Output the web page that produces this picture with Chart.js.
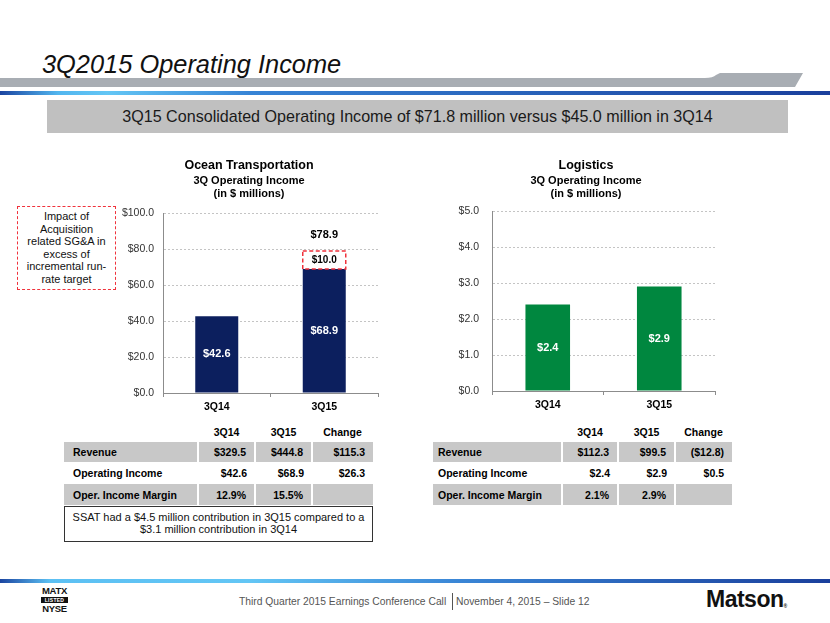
<!DOCTYPE html>
<html>
<head>
<meta charset="utf-8">
<script src="https://cdn.jsdelivr.net/npm/chart.js@4.4.0/dist/chart.umd.min.js"></script>
<style>
  body { margin: 0; background: #fff; font-family: "Liberation Sans", Arial, sans-serif; }
  #slide { position: relative; width: 830px; height: 623px; overflow: hidden; background: #fff; }
  .abs { position: absolute; }
  #title { left: 42px; top: 49px; font-size: 25.4px; font-style: italic; color: #111; line-height: 30px; white-space: nowrap; }
  #banner { left: 47px; top: 100px; width: 741px; height: 33px; background: #c0c0c0; color: #1a1a1a;
            font-size: 16.1px; line-height: 33px; text-align: center; white-space: nowrap; }
  #note { left: 17px; top: 206px; width: 99px; height: 84px; box-sizing: border-box; border: 1.5px dashed #f0323c;
          font-size: 11px; line-height: 12.5px; text-align: center; padding-top: 3px; color: #111; }
  .tbl { position: absolute; border-collapse: collapse; table-layout: fixed; font-size: 10.5px; font-weight: bold; color: #000; }
  .tbl td { padding: 0 8px 0 0; text-align: right; white-space: nowrap; }
  .tbl tr.hd td { text-align: center; padding: 0; }
  .tbl tr.g td { background: #c8c8c8; border-right: 2px solid #fff; }
  .tbl tr.g td:last-child { border-right: none; }
  #ssat { left: 64px; top: 506px; width: 309px; height: 36px; box-sizing: border-box; border: 1.5px solid #333;
          font-size: 11px; line-height: 12px; text-align: center; padding-top: 4px; color: #111; }
  #footer { left: 239px; top: 595px; font-size: 10.3px; color: #555; line-height: 14px; white-space: nowrap; }
  #footer .sep { border-left: 1px solid #555; margin-left: 3px; padding-left: 3px; padding-top: 3px; padding-bottom: 3px; }
  #matx { left: 41px; top: 586px; width: 27px; text-align: center; font-weight: bold; color: #111; font-size: 9.5px; line-height: 10px; letter-spacing: -0.3px; }
  #matx .lst { display: block; background: #111; color: #fff; font-size: 5px; line-height: 6px; margin: 1px 0; letter-spacing: 0.3px; }
  #matson { left: 706px; top: 586px; font-size: 23px; font-weight: bold; letter-spacing: -0.5px; color: #111; line-height: 26px; }
  #matson sup { font-size: 5px; letter-spacing: 0; vertical-align: -1px; }
  canvas { position: absolute; }
</style>
</head>
<body>
<div id="slide">
  <svg class="abs" style="left:0;top:0" width="830" height="623">
    <defs>
      <linearGradient id="blueTop" x1="0" x2="1" y1="0" y2="0">
        <stop offset="0" stop-color="#1b45a0"/>
        <stop offset="0.07" stop-color="#52b6ef"/>
        <stop offset="0.13" stop-color="#63c6f5"/>
        <stop offset="0.3" stop-color="#3784d6"/>
        <stop offset="1" stop-color="#1a3f9c"/>
      </linearGradient>
      <linearGradient id="blueBot" x1="0" x2="1" y1="0" y2="0">
        <stop offset="0" stop-color="#1b45a0"/>
        <stop offset="0.06" stop-color="#5cc0f3"/>
        <stop offset="0.3" stop-color="#63c6f5"/>
        <stop offset="0.55" stop-color="#3a86d6"/>
        <stop offset="1" stop-color="#1a3f9c"/>
      </linearGradient>
    </defs>
    <path d="M0 78 L705 78 Q713 78 716 75 L720 73 L803 73 L795 87 L0 87 Z" fill="#a8adb3"/>
    <rect x="0" y="91" width="830" height="4" fill="url(#blueTop)"/>
    <rect x="0" y="579" width="830" height="4" fill="url(#blueBot)"/>
  </svg>

  <div id="title" class="abs">3Q2015 Operating Income</div>
  <div id="banner" class="abs">3Q15 Consolidated Operating Income of $71.8 million versus $45.0 million in 3Q14</div>

  <div id="note" class="abs">Impact of<br>Acquisition<br>related SG&amp;A in<br>excess of<br>incremental run-<br>rate target</div>

  <canvas id="oceanChart" width="290" height="260" style="left:100px;top:155px;width:290px;height:260px"></canvas>
  <canvas id="logisticsChart" width="300" height="260" style="left:440px;top:155px;width:300px;height:260px"></canvas>

  <table id="oceanTable" class="tbl" style="left:64px;top:421px"></table>
  <table id="logisticsTable" class="tbl" style="left:433px;top:421px"></table>

  <div id="ssat" class="abs">SSAT had a $4.5 million contribution in 3Q15 compared to a<br>$3.1 million contribution in 3Q14</div>

  <div id="matx" class="abs">MATX<span class="lst">LISTED</span>NYSE</div>
  <div id="footer" class="abs">Third Quarter 2015 Earnings Conference Call <span class="sep">November 4, 2015 – Slide 12</span></div>
  <div id="matson" class="abs">Matson<sup>®</sup></div>
</div>

<script>
// ---- data ----
const quarters = ['3Q14', '3Q15'];
const oceanIncome = [42.6, 68.9];
const oceanAcqImpact = [null, 10.0];   // dashed box on top of 3Q15
const logisticsIncome = [2.4, 2.9];
const oceanTicks = [0, 20, 40, 60, 80, 100];
const logisticsTicks = [0, 1, 2, 3, 4, 5];

const tableHead = ['', '3Q14', '3Q15', 'Change'];
const rowNames = ['Revenue', 'Operating Income', 'Oper. Income Margin'];
const oceanRows = [
  ['$329.5', '$444.8', '$115.3'],
  ['$42.6', '$68.9', '$26.3'],
  ['12.9%', '15.5%', '']
];
const logisticsRows = [
  ['$112.3', '$99.5', '($12.8)'],
  ['$2.4', '$2.9', '$0.5'],
  ['2.1%', '2.9%', '']
];

const fontFamily = '"Liberation Sans", Arial, sans-serif';
Chart.defaults.font.family = fontFamily;
Chart.defaults.color = '#000';

const navy = '#0c1f5e';
const green = '#00873f';
const dashRed = '#f0323c';

// value labels inside the bars, dashed box + total for the acquisition part
const barLabels = {
  id: 'barLabels',
  afterDatasetsDraw(chart) {
    const ctx = chart.ctx;
    ctx.save();
    ctx.textAlign = 'center';
    ctx.textBaseline = 'middle';
    chart.data.datasets.forEach((ds, di) => {
      const meta = chart.getDatasetMeta(di);
      meta.data.forEach((bar, i) => {
        const v = ds.data[i];
        if (v == null) return;
        const p = bar.getProps(['x', 'y', 'base', 'width'], true);
        if (ds.dashColor) {
          ctx.setLineDash([4, 2.5]);
          ctx.lineWidth = 1.5;
          ctx.strokeStyle = ds.dashColor;
          ctx.strokeRect(p.x - p.width / 2, p.y, p.width, p.base - p.y);
          ctx.setLineDash([]);
        }
        ctx.fillStyle = ds.labelColor;
        ctx.font = 'bold ' + ds.labelSize + 'px ' + fontFamily;
        ctx.fillText('$' + v.toFixed(1), p.x, (p.y + p.base) / 2);
        if (ds.showTotal) {
          let tot = 0;
          chart.data.datasets.forEach(d => { tot += d.data[i] || 0; });
          ctx.fillStyle = '#000';
          ctx.font = 'bold 11px ' + fontFamily;
          ctx.fillText('$' + tot.toFixed(1), p.x, p.y - 16);
        }
      });
    });
    ctx.restore();
  }
};

function barChart(id, cfg) {
  return new Chart(document.getElementById(id), {
    type: 'bar',
    data: { labels: quarters, datasets: cfg.datasets },
    options: {
      responsive: false,
      animation: false,
      devicePixelRatio: 1,
      layout: { padding: cfg.padding },
      datasets: { bar: { categoryPercentage: 1, barPercentage: 0.4 } },
      plugins: {
        legend: { display: false },
        tooltip: { enabled: false },
        title: { display: true, text: cfg.title, color: '#000',
                 font: { size: 12.5, weight: 'bold' }, padding: { top: 3, bottom: 1 } },
        subtitle: { display: true, text: ['3Q Operating Income', '(in $ millions)'], color: '#000',
                    font: { size: 11, weight: 'bold', lineHeight: 1.2 }, padding: { top: 0, bottom: cfg.subGap } }
      },
      scales: {
        x: {
          stacked: true,
          grid: { display: true, drawOnChartArea: false, drawTicks: true, tickLength: 4, color: '#8c8c8c', offset: true },
          border: { color: '#8c8c8c', width: 1 },
          ticks: { color: '#000', font: { size: 10.5, weight: 'bold' }, padding: 3.5 },
          afterFit: s => { s.height = cfg.xH; }
        },
        y: {
          stacked: true,
          min: cfg.ticks[0],
          max: cfg.ticks[cfg.ticks.length - 1],
          ticks: { stepSize: cfg.ticks[1] - cfg.ticks[0], color: '#333', font: { size: 10.5 }, padding: cfg.tickPad,
                   callback: v => '$' + Number(v).toFixed(1) },
          grid: { color: '#c4c4c4', drawTicks: false },
          border: { color: '#8c8c8c', dash: [2, 2] },
          afterFit: s => { s.width = cfg.yW; }
        }
      }
    },
    plugins: [barLabels]
  });
}

barChart('oceanChart', {
  title: 'Ocean Transportation',
  ticks: oceanTicks,
  padding: { left: 20, right: 12, top: 0, bottom: 0 },
  yW: 43, xH: 22, subGap: 12.6, tickPad: 9,
  datasets: [
    { data: oceanIncome, backgroundColor: navy, labelColor: '#fff', labelSize: 11 },
    { data: oceanAcqImpact, backgroundColor: 'rgba(0,0,0,0)', borderWidth: 0,
      dashColor: dashRed, labelColor: '#000', labelSize: 10, showTotal: true }
  ]
});

barChart('logisticsChart', {
  title: 'Logistics',
  ticks: logisticsTicks,
  padding: { left: 17, right: 25, top: 0, bottom: 0 },
  yW: 35, xH: 24, subGap: 10.6, tickPad: 13,
  datasets: [
    { data: logisticsIncome, backgroundColor: green, labelColor: '#fff', labelSize: 11 }
  ]
});

// tables under the charts
function buildTable(id, rows, widths, padLeft) {
  const t = document.getElementById(id);
  const cg = document.createElement('colgroup');
  widths.forEach(w => { const c = document.createElement('col'); c.style.width = w + 'px'; cg.appendChild(c); });
  t.appendChild(cg);
  t.style.width = widths.reduce((a, b) => a + b, 0) + 'px';
  const heights = [21, 20, 22, 21];
  const all = [tableHead].concat(rows.map((r, i) => [rowNames[i]].concat(r)));
  all.forEach((r, ri) => {
    const tr = document.createElement('tr');
    tr.className = ri === 0 ? 'hd' : (ri % 2 ? 'g' : '');
    tr.style.height = heights[ri] + 'px';
    r.forEach((txt, ci) => {
      const td = document.createElement('td');
      td.textContent = txt;
      if (ci === 0 && ri > 0) { td.style.textAlign = 'left'; td.style.paddingLeft = padLeft + 'px'; }
      tr.appendChild(td);
    });
    t.appendChild(tr);
  });
}
buildTable('oceanTable', oceanRows, [134, 57, 57, 61], 9);
buildTable('logisticsTable', logisticsRows, [129, 56, 57, 57], 5);
</script>
</body>
</html>
